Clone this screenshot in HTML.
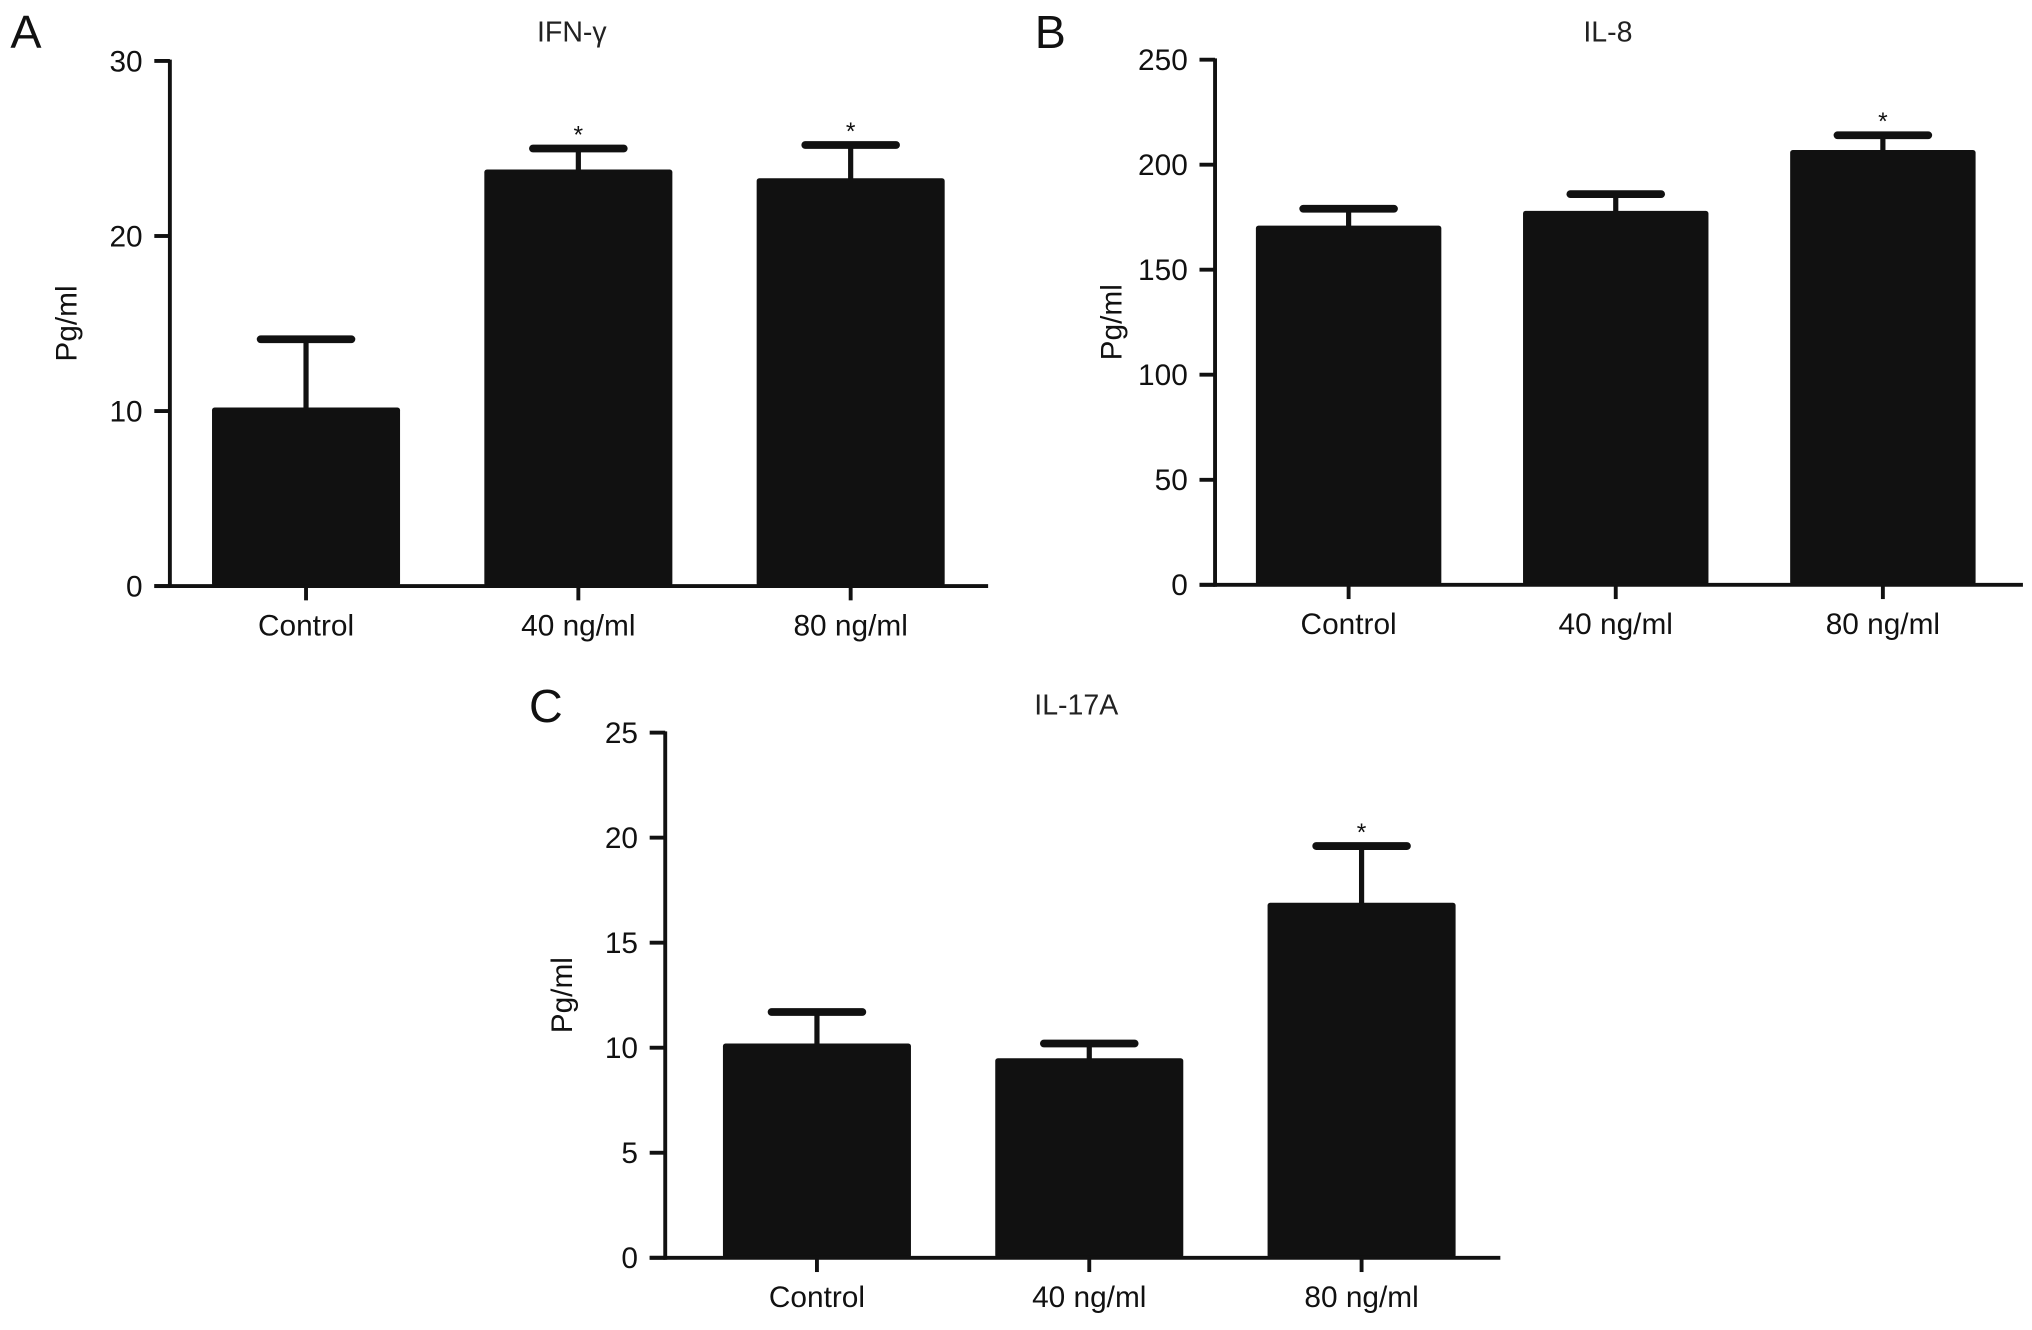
<!DOCTYPE html>
<html><head><meta charset="utf-8"><style>
html,body{margin:0;padding:0;background:#fff;}
svg{display:block;font-family:"Liberation Sans",Arial,sans-serif;}
</style></head><body>
<svg id="fig" width="2032" height="1330" viewBox="0 0 1567 1025.7" preserveAspectRatio="none"></svg>
<script>
const categories = ["Control", "40 ng/ml", "80 ng/ml"];
const ifnValues = [10.2, 23.8, 23.3];
const ifnErrors = [14.1, 25.0, 25.2];
const ifnSig = [false, true, true];
const ifnTicks = [0, 10, 20, 30];
const il8Values = [171, 178, 207];
const il8Errors = [179, 186, 214];
const il8Sig = [false, false, true];
const il8Ticks = [0, 50, 100, 150, 200, 250];
const il17Values = [10.2, 9.5, 16.9];
const il17Errors = [11.7, 10.2, 19.6];
const il17Sig = [false, false, true];
const il17Ticks = [0, 5, 10, 15, 20, 25];

const NS = "http://www.w3.org/2000/svg";
const svg = document.getElementById("fig");
function mk(tag, attrs, parent) {
  const e = document.createElementNS(NS, tag);
  for (const k in attrs) e.setAttribute(k, attrs[k]);
  (parent || svg).appendChild(e);
  return e;
}

function panel(cfg) {
  const g = mk("g", {});
  
  
  const ymax = cfg.ticks[cfg.ticks.length - 1];
  const y = v => cfg.y0 - (v / ymax) * (cfg.y0 - cfg.yTop);
  const bw = cfg.barW;
  const xc = i => cfg.firstC + i * cfg.step;

  const lt = mk("text", {x: cfg.letterX, y: cfg.letterY, "font-size": 36, fill: "#111"}, g);
  lt.textContent = cfg.letter;
  
  

  const tt = mk("text", {x: cfg.titleX, y: cfg.titleY, "font-size": 22, "text-anchor": "middle", fill: "#222"}, g);
  tt.textContent = cfg.title;
  
  

  const yl = mk("text", {x: 0, y: 0, "font-size": 23, "text-anchor": "middle", fill: "#111",
    transform: `translate(${cfg.axisX - 72},${(cfg.y0 + cfg.yTop) / 2}) rotate(-90)`}, g);
  yl.textContent = "Pg/ml";
  
  

  for (let i = 0; i < cfg.values.length; i++) {
    const eb = mk("line", {x1: xc(i), x2: xc(i), y1: y(cfg.values[i]) + 2, y2: y(cfg.errors[i]), stroke: "#111", "stroke-width": 4}, g);
    
    
    const cap = mk("line", {x1: xc(i) - 35, x2: xc(i) + 35, y1: y(cfg.errors[i]), y2: y(cfg.errors[i]), stroke: "#111", "stroke-width": 6, "stroke-linecap": "round"}, g);
    
    
    const b = mk("rect", {x: xc(i) - bw / 2, y: y(cfg.values[i]), width: bw, height: cfg.y0 - y(cfg.values[i]), fill: "#111", rx: 2}, g);
    
    
    if (cfg.sig[i]) {
      const s = mk("text", {x: xc(i), y: y(cfg.errors[i]) - 4, "font-size": 19, "text-anchor": "middle", fill: "#111"}, g);
      s.textContent = "*";
      
      
    }
    const cl = mk("text", {x: xc(i), y: cfg.y0 + 38, "font-size": 23, "text-anchor": "middle", fill: "#111"}, g);
    cl.textContent = categories[i];
    
    
    const xt = mk("line", {x1: xc(i), x2: xc(i), y1: cfg.y0, y2: cfg.y0 + 11, stroke: "#111", "stroke-width": 3}, g);
    
    
  }

  const ya = mk("line", {x1: cfg.axisX, x2: cfg.axisX, y1: cfg.yTop - 1, y2: cfg.y0 + 1.5, stroke: "#111", "stroke-width": 3}, g);
  
  
  const xa = mk("line", {x1: cfg.axisX - 12, x2: cfg.xEnd, y1: cfg.y0, y2: cfg.y0, stroke: "#111", "stroke-width": 3}, g);
  
  
  for (const t of cfg.ticks) {
    const tk = mk("line", {x1: cfg.axisX - 12, x2: cfg.axisX, y1: y(t), y2: y(t), stroke: "#111", "stroke-width": 3}, g);
    
    
    const tl = mk("text", {x: cfg.axisX - 21, y: y(t) + 8, "font-size": 23, "text-anchor": "end", fill: "#111"}, g);
    tl.textContent = t;
    
    
  }
}

panel({name: "panel-a-ifn-gamma", letter: "A", letterX: 8, letterY: 37, title: "IFN-γ", titleX: 441, titleY: 32,
  axisX: 131, yTop: 47, y0: 452, xEnd: 762, firstC: 236, step: 210, barW: 145,
  values: ifnValues, errors: ifnErrors, sig: ifnSig, ticks: ifnTicks});
panel({name: "panel-b-il8", letter: "B", letterX: 798, letterY: 37, title: "IL-8", titleX: 1240, titleY: 32,
  axisX: 937, yTop: 46, y0: 451, xEnd: 1560, firstC: 1040, step: 206, barW: 143,
  values: il8Values, errors: il8Errors, sig: il8Sig, ticks: il8Ticks});
panel({name: "panel-c-il17a", letter: "C", letterX: 408, letterY: 557, title: "IL-17A", titleX: 830, titleY: 551,
  axisX: 513, yTop: 565, y0: 970, xEnd: 1157, firstC: 630, step: 210, barW: 145,
  values: il17Values, errors: il17Errors, sig: il17Sig, ticks: il17Ticks});
</script>
</body></html>
